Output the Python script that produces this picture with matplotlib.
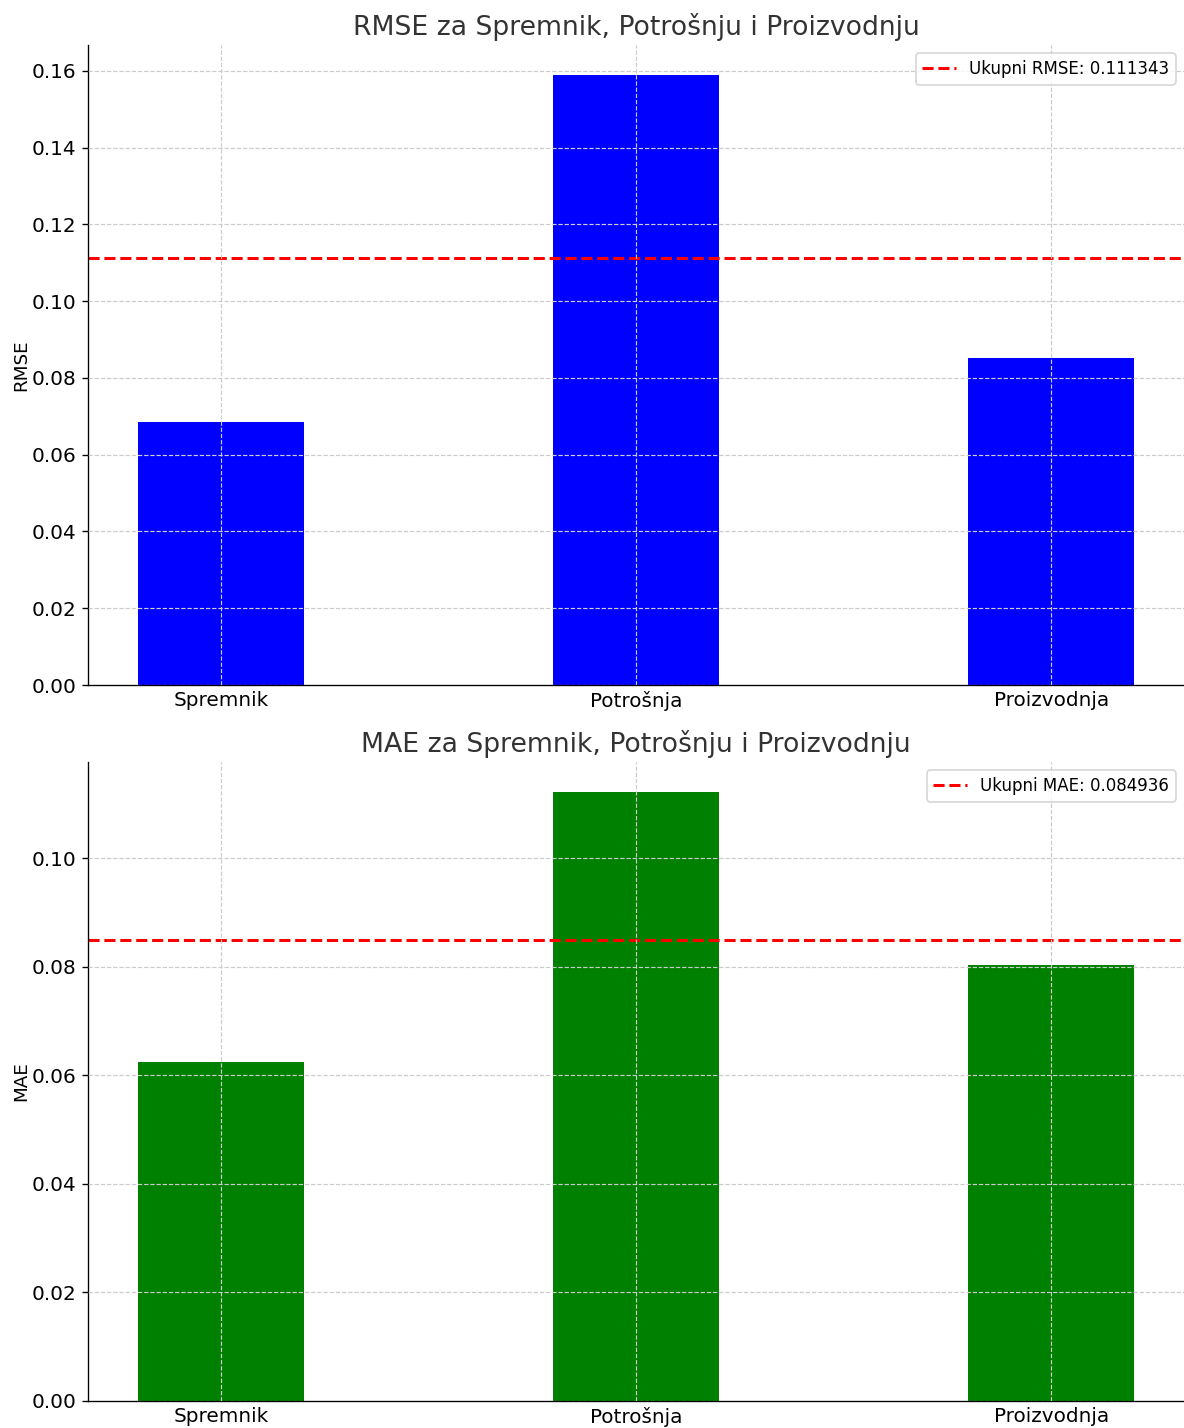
import matplotlib.pyplot as plt
import numpy as np

categories = ["Spremnik", "Potrošnja", "Proizvodnja"]
rmse_values = [0.0686, 0.1588, 0.0851]
mae_values = [0.0624, 0.1121, 0.0803]
rmse_total = 0.111343
mae_total = 0.084936

plt.rcParams['font.family'] = ['DejaVu Sans']
fig = plt.figure(figsize=(1184 / 120, 1428 / 120), dpi=120)
ax1 = fig.add_axes([88 / 1184, 1 - 685 / 1428, 1 - 88 / 1184, 640 / 1428])
ax2 = fig.add_axes([88 / 1184, 1 - 1401 / 1428, 1 - 88 / 1184, 639 / 1428])

x = np.arange(len(categories))

def draw(ax, vals, total, color, name):
    ax.bar(x, vals, width=0.4, color=color)
    ax.axhline(total, color='red', linestyle='--', linewidth=1.8,
               label=f"Ukupni {name}: {total:.6f}")
    ax.set_xticks(x)
    ax.set_xticklabels(categories, fontsize=12)
    ax.tick_params(axis='y', labelsize=12)
    ax.tick_params(axis='x', length=0)
    ax.set_ylabel(name, fontsize=11, labelpad=1)
    ax.set_title(f"{name} za Spremnik, Potrošnju i Proizvodnju", fontsize=16, color='#333333')
    ax.grid(True, linestyle='--', color='#cccccc', linewidth=0.7)
    ax.set_axisbelow(False)
    ax.spines['top'].set_visible(False)
    ax.spines['right'].set_visible(False)
    ax.legend(loc='upper right', fontsize=10)

draw(ax1, rmse_values, rmse_total, 'blue', 'RMSE')
draw(ax2, mae_values, mae_total, 'green', 'MAE')

plt.savefig('out.png', dpi=120)
